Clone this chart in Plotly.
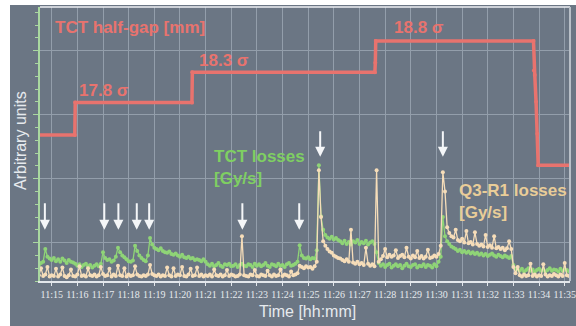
import plotly.graph_objects as go

# ---------------- data ----------------
# x axis: seconds since 11:00:00 ; ticks every minute
tick_seconds = [900, 960, 1020, 1080, 1140, 1200, 1260, 1320, 1380, 1440, 1500,
                1560, 1620, 1680, 1740, 1800, 1860, 1920, 1980, 2040, 2100]
tick_labels = ["11:15", "11:16", "11:17", "11:18", "11:19", "11:20", "11:21",
               "11:22", "11:23", "11:24", "11:25", "11:26", "11:27", "11:28",
               "11:29", "11:30", "11:31", "11:32", "11:33", "11:34", "11:35"]

# loss samples every 5 s starting 11:14:30
sample_start = 870
sample_step = 5

tct_losses = [
    25, 28, 30, 50,
    38, 35, 33, 36, 31, 34, 30, 35, 32, 28, 33, 30, 29,
    27, 24, 26, 22, 25, 27, 23, 25, 21, 24, 26, 23, 27,
    45, 36, 33, 34, 30, 32,
    38, 52, 45, 40, 37, 34, 31, 30, 32,
    55, 47, 40, 36, 33, 31, 40,
    67, 57, 52, 50, 48, 51, 47, 45, 44, 46, 42, 41, 43, 40, 38, 41, 37, 36, 38, 35, 36, 33, 34,
    33, 31, 34, 30,
    26, 24, 27, 23, 25, 28, 24, 22, 26, 25, 27, 23, 24, 26, 22, 25, 27, 24, 23, 26,
    25, 22, 27, 24, 26, 23, 25, 28, 24, 22, 26, 25, 23, 27, 24, 25, 22, 26, 28, 24,
    25, 27, 30,
    56, 40, 36, 35, 37, 34, 36, 35, 48,
    181, 101, 80, 72,
    68, 66, 69, 65, 67, 64,
    62, 59, 63, 58, 61, 57, 62, 60, 64, 58, 61, 59, 63, 57, 60, 62, 58,
    45,
    28, 24, 26, 22, 25, 27, 21, 24, 26, 23, 25, 20, 24, 27, 23, 22, 25, 26, 21, 24,
    23, 26, 22, 25, 24, 21, 26, 23, 30, 38,
    100, 70, 62, 58, 54, 52,
    50, 47, 49, 45, 47, 44, 46, 43, 45, 42, 44, 41, 43, 40, 42, 39, 41, 43, 40, 38,
    41, 39, 37, 40, 38, 36, 39,
    25, 19,
    18, 16, 19, 15, 17, 20, 16, 18, 14, 17, 19, 16, 18, 15, 17, 20, 16, 18, 17, 15,
    19, 16, 18, 17, 15, 18,
]

q3r1_losses = [
    9, 20, 8, 10, 22, 7, 9, 8, 19, 7,
    10, 21, 8, 6, 9, 18, 8, 7, 10, 23,
    8, 9, 7, 20, 9, 8, 10, 7, 9, 22,
    11, 8, 9, 19, 7, 10, 8, 24, 9, 8,
    20, 7, 10, 8, 9, 23, 10, 8, 7, 9,
    8, 10, 25, 11, 9, 8, 10, 7, 9, 8,
    21, 9, 7, 20, 8, 10, 9, 22, 8, 7,
    10, 19, 8, 9, 21, 8, 10, 7, 9,
    8, 10, 7, 18, 9, 8, 10, 7, 9, 17,
    8, 10, 9, 7, 8, 10, 70, 9, 8, 7,
    10, 9, 17, 8, 7, 10, 9, 8, 16, 9,
    7, 10, 8, 9, 18, 8, 10, 9, 7, 15,
    9, 10, 12,
    24, 22, 20, 23, 21, 22, 19, 23, 30,
    173,
    100, 62, 55, 50, 46, 44, 40, 38, 36, 35, 33, 31, 34, 30, 80, 29, 27, 30, 26, 28,
    25, 52, 27, 24, 26, 23,
    173,
    30, 34, 39, 50, 37, 41, 38, 40, 48, 36, 39, 41, 37, 52, 38, 35, 40, 37, 47, 36,
    39, 35, 38, 49, 36, 37, 40, 38, 42, 55,
    170,
    140, 84, 75, 70, 68, 80, 64, 62, 66, 60, 78, 59, 61, 57, 76, 58, 55, 57, 54, 72,
    53, 56, 52, 70, 51, 53, 50, 52, 48, 51, 62, 50,
    22, 12,
    22, 9, 7, 10, 8, 9, 27, 8, 10, 7, 9, 8, 26, 10, 7, 9, 8, 11, 9, 7,
    10, 8, 28, 9, 8, 10,
]

# TCT half-gap (arbitrary units on the same axis)
gap_time = [860, 954, 955, 1228, 1229, 1656, 1657, 1658, 2027, 2028, 2030, 2033, 2036, 2038, 2130]
gap_value = [228, 228, 279, 279, 326, 326, 341, 375, 375, 329, 322, 280, 230, 181, 181]

gap_labels = ["17.8 σ", "18.3 σ", "18.8 σ"]

# arrows marking loss spikes
arrow_small_time = [884, 1023, 1056, 1099, 1128, 1346, 1479]
arrow_big_time = [1528, 1815]

sample_time = [sample_start + sample_step * i for i in range(len(tct_losses))]

# ---------------- style ----------------
BG = "#6b7684"
GRID = "#939eab"
GREEN = "#8fd477"
BEIGE = "#f6ddb9"
RED = "#e8736e"
GREEN_TXT = "#7fcf62"
BEIGE_TXT = "#e9cd98"
LIGHT = "#e6eaee"

# page layout: figure is offset 10 px right, 5 px down (white strip of the original)
OFF_X, OFF_Y = 10, 5
W, H = 576 - OFF_X, 326 - OFF_Y
L, R, T, B = 40 - OFF_X, 6, 7 - OFF_Y, 45
PW, PH = W - L - R, H - T - B


def px(xp):  # page pixel -> paper
    return (xp - 40) / PW


def py(yp):
    return (281 - yp) / PH


fig = go.Figure()

fig.add_trace(go.Scatter(
    x=sample_time, y=tct_losses, mode="lines+markers",
    line=dict(color=GREEN, width=1.3), marker=dict(color=GREEN, size=4),
    showlegend=False, hoverinfo="skip"))

fig.add_trace(go.Scatter(
    x=sample_time, y=q3r1_losses, mode="lines+markers",
    line=dict(color=BEIGE, width=1.3), marker=dict(color=BEIGE, size=4),
    showlegend=False, hoverinfo="skip"))

fig.add_trace(go.Scatter(
    x=gap_time, y=gap_value, mode="lines+markers",
    line=dict(color=RED, width=3.5), marker=dict(color=RED, size=4),
    showlegend=False, hoverinfo="skip"))

annotations = []
bold = dict(family="Liberation Sans, Arial, sans-serif", size=17)

annotations.append(dict(text="<b>TCT half-gap [mm]</b>", xref="paper", yref="paper",
                        x=px(53), y=py(27), xanchor="left", yanchor="middle",
                        showarrow=False, font=dict(bold, color=RED)))
for lab, (lx, ly) in zip(gap_labels, [(77, 91), (197, 61), (392, 27)]):
    annotations.append(dict(text="<b>%s</b>" % lab, xref="paper", yref="paper",
                            x=px(lx), y=py(ly), xanchor="left", yanchor="middle",
                            showarrow=False, font=dict(bold, color=RED)))
annotations.append(dict(text="<b>TCT losses<br>[Gy/s]</b>", xref="paper", yref="paper",
                        x=px(212), y=py(167.5), xanchor="left", yanchor="middle", align="left",
                        showarrow=False, font=dict(bold, color=GREEN_TXT)))
annotations.append(dict(text="<b>Q3-R1 losses<br>[Gy/s]</b>", xref="paper", yref="paper",
                        x=px(457), y=py(201), xanchor="left", yanchor="middle", align="left",
                        showarrow=False, font=dict(bold, color=BEIGE_TXT)))

# axis titles
annotations.append(dict(text="Time [hh:mm]", xref="paper", yref="paper",
                        x=px(307), y=py(311), xanchor="center", yanchor="middle",
                        showarrow=False,
                        font=dict(family="Liberation Sans, Arial, sans-serif", size=16, color=LIGHT)))
annotations.append(dict(text="Arbitrary units", xref="paper", yref="paper",
                        x=px(20), y=py(141), xanchor="center", yanchor="middle",
                        textangle=-90, showarrow=False,
                        font=dict(family="Liberation Sans, Arial, sans-serif", size=16, color=LIGHT)))

for t in arrow_small_time:
    annotations.append(dict(text="", x=t, y=80, xref="x", yref="y",
                            showarrow=True, ax=0, ay=-28, arrowhead=2, arrowsize=1.0,
                            arrowwidth=2, arrowcolor="#f4f6f8", standoff=0))
for t in arrow_big_time:
    annotations.append(dict(text="", x=t, y=194, xref="x", yref="y",
                            showarrow=True, ax=0, ay=-27, arrowhead=2, arrowsize=1.0,
                            arrowwidth=2, arrowcolor="#f4f6f8", standoff=0))

shapes = [
    # frame top and right
    dict(type="line", xref="paper", yref="paper", x0=0, x1=1, y0=1, y1=1,
         line=dict(color="#eef1f4", width=1.5)),
    dict(type="line", xref="paper", yref="paper", x0=1, x1=1, y0=0, y1=1,
         line=dict(color="#b9c0c8", width=2)),
]

fig.update_layout(
    width=W, height=H,
    margin=dict(l=L, r=R, t=T, b=B, pad=0),
    paper_bgcolor=BG, plot_bgcolor=BG,
    template="none",
    showlegend=False,
    annotations=annotations,
    shapes=shapes,
    xaxis=dict(range=[872.6, 2112.4], tickmode="array", tickvals=tick_seconds,
               ticktext=tick_labels, showgrid=True, gridcolor=GRID, gridwidth=1,
               zeroline=False, showline=True, linecolor="#e3e7eb", linewidth=1.5,
               ticks="outside", ticklen=3, tickcolor="#e3e7eb", tickwidth=1,
               tickfont=dict(family="Liberation Serif, Times New Roman, serif", size=10, color=LIGHT)),
    yaxis=dict(range=[0, PH / 0.64], tick0=60, dtick=100, showticklabels=False,
               showgrid=True, gridcolor=GRID, gridwidth=1, zeroline=False,
               showline=True, linecolor="#a9d8a0", linewidth=1.5,
               ticks="outside", ticklen=5, tickcolor="#a9d8a0", tickwidth=1,
               minor=dict(tick0=60, dtick=20, ticks="outside", ticklen=3,
                          tickcolor="#a9d8a0", showgrid=False)),
)

fig.write_html(
    "out.html",
    config={"displayModeBar": False},
    post_script=("document.body.style.margin='%dpx 0 0 %dpx';"
                 "document.body.style.background='white';"
                 "document.documentElement.style.overflow='hidden';" % (OFF_Y, OFF_X)),
)
